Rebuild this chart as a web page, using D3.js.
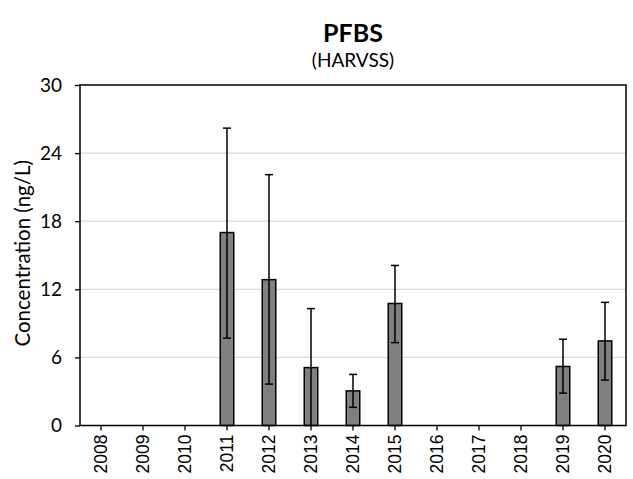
<!DOCTYPE html>
<html>
    <head>
        <script src="https://d3js.org/d3.v7.min.js"></script>
        <style>
            body { margin: 0; background: #fff; }
        </style>
    </head>
    <body>
        <svg height="479" width="633" id="chart"></svg>
        <script>
            // values
            const years = ["2008", "2009", "2010", "2011", "2012", "2013", "2014", "2015", "2016", "2017", "2018", "2019", "2020"];
            const means = [null, null, null, 17.0, 12.85, 5.1, 3.05, 10.75, null, null, null, 5.2, 7.45];
            const upper = [null, null, null, 26.2, 22.1, 10.3, 4.5, 14.1, null, null, null, 7.6, 10.85];
            const lower = [null, null, null, 7.7, 3.65, 0, 1.6, 7.3, null, null, null, 2.85, 4.0];
            const yTicks = [0, 6, 12, 18, 24, 30];

            let svg = d3.select("#chart");
            let margin = {top: 85, right: 7, bottom: 53.5, left: 80};
            let width = 633 - margin.left - margin.right;
            let height = 479 - margin.top - margin.bottom;
            let calibri = "Lato, 'Open Sans', sans-serif";

            let g = svg.append("g").attr("transform", `translate(${margin.left},${margin.top})`);

            let x = d3.scaleBand().domain(years).range([0, width]);
            let y = d3.scaleLinear().domain([0, 30]).range([height, 0]);

            // gridlines
            g.selectAll(".grid")
                .data(yTicks.filter(d => d > 0 && d < 30))
                .enter().append("line")
                .attr("x1", 0).attr("x2", width)
                .attr("y1", d => y(d)).attr("y2", d => y(d))
                .style("stroke", "#d9d9d9")
                .style("stroke-width", 1.3);

            // y axis
            let yAxis = g.append("g")
                .call(d3.axisLeft(y).tickValues(yTicks).tickSize(5).tickPadding(13).tickFormat(d3.format("d")));
            yAxis.select(".domain").remove();
            yAxis.selectAll("line").style("stroke", "#000").style("stroke-width", 1.3);
            yAxis.selectAll("text")
                .style("font-family", calibri)
                .style("font-size", "19px")
                .style("fill", "#000");

            // x axis
            let xAxis = g.append("g")
                .attr("transform", `translate(0,${height})`)
                .call(d3.axisBottom(x).tickSize(5).tickSizeOuter(0));
            xAxis.select(".domain").remove();
            xAxis.selectAll("line").style("stroke", "#000").style("stroke-width", 1.3);
            xAxis.selectAll("text")
                .attr("transform", "rotate(-90)")
                .attr("text-anchor", "end")
                .attr("x", -9)
                .attr("y", 0)
                .attr("dy", "0.35em")
                .style("font-family", "'Liberation Sans', Arial, sans-serif")
                .style("font-size", "17.5px")
                .style("fill", "#000");

            // bars
            let barW = 13.5;
            let idx = years.map((d, i) => i).filter(i => means[i] !== null);

            g.selectAll(".bar")
                .data(idx)
                .enter().append("rect")
                .attr("x", i => x(years[i]) + x.bandwidth() / 2 - barW / 2)
                .attr("y", i => y(means[i]))
                .attr("width", barW)
                .attr("height", i => height - y(means[i]))
                .style("fill", "#808080")
                .style("stroke", "#000")
                .style("stroke-width", 1.5);

            // error bars
            let cap = 4;
            let err = g.selectAll(".err")
                .data(idx)
                .enter().append("g");
            err.append("line")
                .attr("x1", i => x(years[i]) + x.bandwidth() / 2)
                .attr("x2", i => x(years[i]) + x.bandwidth() / 2)
                .attr("y1", i => y(upper[i]))
                .attr("y2", i => y(lower[i]))
                .style("stroke", "#000").style("stroke-width", 1.5);
            err.append("line")
                .attr("x1", i => x(years[i]) + x.bandwidth() / 2 - cap)
                .attr("x2", i => x(years[i]) + x.bandwidth() / 2 + cap)
                .attr("y1", i => y(upper[i]))
                .attr("y2", i => y(upper[i]))
                .style("stroke", "#000").style("stroke-width", 1.5);
            err.filter(i => lower[i] > 0).append("line")
                .attr("x1", i => x(years[i]) + x.bandwidth() / 2 - cap)
                .attr("x2", i => x(years[i]) + x.bandwidth() / 2 + cap)
                .attr("y1", i => y(lower[i]))
                .attr("y2", i => y(lower[i]))
                .style("stroke", "#000").style("stroke-width", 1.5);

            // frame
            g.append("rect")
                .attr("width", width).attr("height", height)
                .style("fill", "none")
                .style("stroke", "#000")
                .style("stroke-width", 1.5);

            // titles
            svg.append("text")
                .attr("x", margin.left + width / 2).attr("y", 42)
                .attr("text-anchor", "middle")
                .style("font-family", calibri)
                .style("font-weight", "bold")
                .style("font-size", "25px")
                .text("PFBS");
            svg.append("text")
                .attr("x", margin.left + width / 2).attr("y", 67)
                .attr("text-anchor", "middle")
                .style("font-family", calibri)
                .style("font-size", "19px")
                .text("(HARVSS)");
            svg.append("text")
                .attr("transform", `translate(30,${margin.top + height / 2 - 2}) rotate(-90)`)
                .attr("text-anchor", "middle")
                .style("font-family", calibri)
                .style("font-size", "20.5px")
                .text("Concentration (ng/L)");
        </script>
    </body>
</html>
